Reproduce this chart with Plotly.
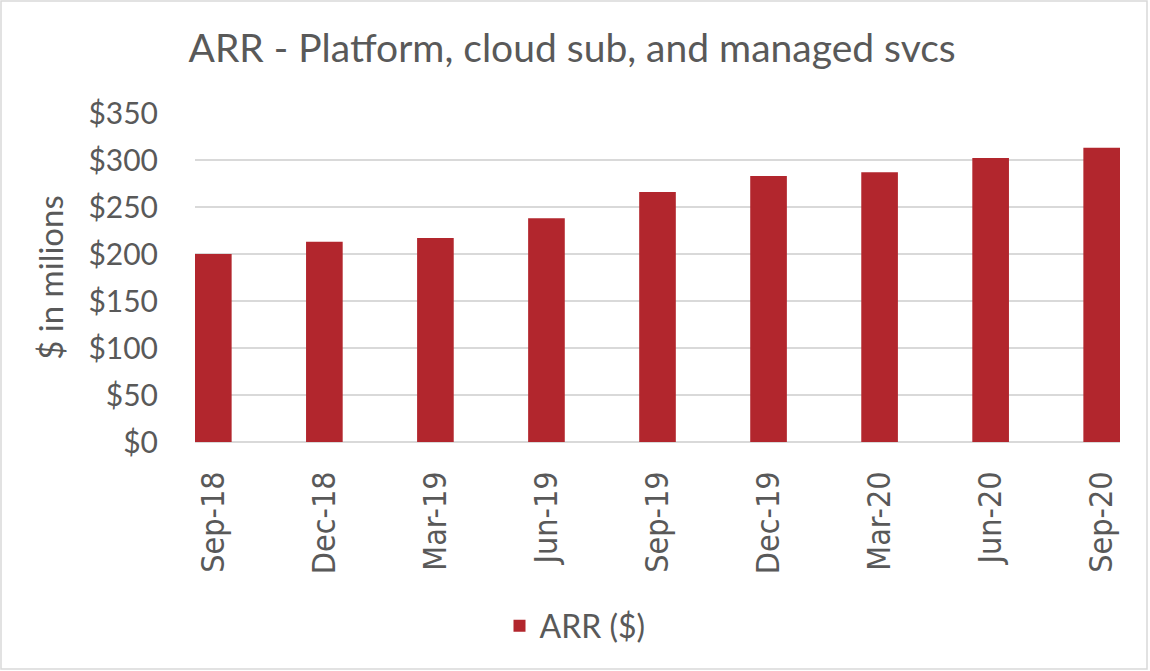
import plotly.graph_objects as go

categories = ["Sep-18", "Dec-18", "Mar-19", "Jun-19", "Sep-19", "Dec-19", "Mar-20", "Jun-20", "Sep-20"]
arr_values = [200, 213, 217, 238, 266, 283, 287, 302, 313]
series_name = "ARR ($)"
title_text = "ARR - Platform, cloud sub, and managed svcs"
y_title = "$ in milions"

TEXT = "#595959"
GRID = "#D9D9D9"
BAR = "#B2262D"

fig = go.Figure()
fig.add_trace(go.Bar(
    x=categories, y=arr_values, name=series_name,
    marker=dict(color=BAR, line=dict(width=0)),
    width=0.33, showlegend=True,
))

W, H = 1150, 671
L, R, T, B = 195, 1120, 113, 442
pw, ph = R - L, B - T

def px_x(p):
    return (p - L) / pw

def px_y(p):
    return (B - p) / ph

fig.update_layout(
    width=W, height=H,
    margin=dict(l=L, r=W - R, t=T, b=H - B, autoexpand=False),
    paper_bgcolor="white", plot_bgcolor="white",
    title=dict(text=title_text, x=0.4975, xref="container", xanchor="center",
               y=1 - 48 / H, yref="container", yanchor="middle",
               font=dict(family="Lato", size=39, color=TEXT)),
    showlegend=True,
    legend=dict(orientation="h", x=0.5, xref="container", xanchor="center",
                y=1 - 626 / H, yref="container", yanchor="middle",
                font=dict(family="Lato", size=32, color=TEXT),
                itemclick=False),
    bargap=0.67,
    shapes=[dict(type="rect", xref="paper", yref="paper",
                 x0=px_x(1), x1=px_x(1147), y0=px_y(669), y1=px_y(1),
                 line=dict(color=GRID, width=1.5), fillcolor="rgba(0,0,0,0)", layer="below")],
)

fig.update_xaxes(
    type="category", range=[-0.165, 8.165],
    showgrid=False, showline=False, zeroline=False,
    tickangle=-90, ticks="", ticklabelstandoff=22,
    tickfont=dict(family="DejaVu Sans Condensed, DejaVu Sans", size=32, color=TEXT),
)
fig.update_yaxes(
    range=[0, 350], dtick=50, tickprefix="$",
    showgrid=True, gridcolor=GRID, gridwidth=1.5,
    zeroline=True, zerolinecolor=GRID, zerolinewidth=1.5,
    showline=False, ticks="", ticklabelstandoff=36,
    tickfont=dict(family="Lato", size=30, color=TEXT),
    title=dict(text=y_title, standoff=14, font=dict(family="Lato", size=33, color=TEXT)),
)

fig.write_html("out.html", config={"displayModeBar": False},
               post_script="document.body.style.margin='0';document.body.style.overflow='hidden';")
